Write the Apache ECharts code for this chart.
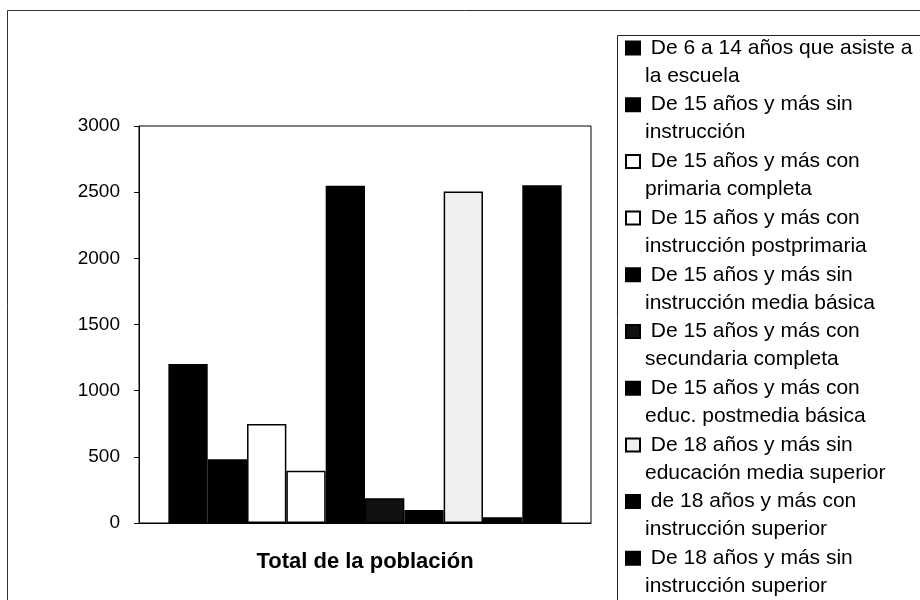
<!DOCTYPE html>
<html>
<head>
<meta charset="utf-8">
<script src="https://cdn.jsdelivr.net/npm/echarts@6/dist/echarts.min.js"></script>
<style>html,body{margin:0;padding:0;background:#fff}#c{width:920px;height:600px}</style>
</head>
<body>
<div id="c"></div>
<script>
const categories = ['Total de la población'];
const seriesNames = [
  'De 6 a 14 años que asiste a\nla escuela',
  'De 15 años y más sin\ninstrucción',
  'De 15 años y más con\nprimaria completa',
  'De 15 años y más con\ninstrucción postprimaria',
  'De 15 años y más sin\ninstrucción media básica',
  'De 15 años y más con\nsecundaria completa',
  'De 15 años y más con\neduc. postmedia básica',
  'De 18 años y más sin\neducación media superior',
  'de 18 años y más con\ninstrucción superior',
  'De 18 años y más sin\ninstrucción superior'
];
const seriesValues = [1202, 482, 748, 395, 2548, 187, 98, 2505, 43, 2553];
const seriesColors = ['#000', '#000', '#fff', '#fff', '#000', '#111', '#000', '#efefef', '#000', '#000'];
const yTicks = {min: 0, max: 3000, interval: 500};

const FONT = '"Liberation Sans", Arial, sans-serif';
const chart = echarts.init(document.getElementById('c'), null, {renderer: 'canvas'});
chart.setOption({
  backgroundColor: '#fff',
  animation: false,
  graphic: [
    {type: 'rect', shape: {x: 7.5, y: 10.5, width: 960, height: 640}, style: {fill: 'none', stroke: '#333', lineWidth: 1}, z: -1},
    {type: 'rect', shape: {x: 617.5, y: 35.5, width: 400, height: 640}, style: {fill: 'none', stroke: '#222', lineWidth: 1}, z: -1}
  ],
  grid: {left: 139, right: 329, top: 126, bottom: 77, show: true, borderColor: '#000', borderWidth: 1, backgroundColor: 'transparent'},
  legend: {
    orient: 'vertical',
    left: 620,
    top: 1,
    height: 800,
    width: 400,
    padding: 5,
    icon: 'rect',
    itemWidth: 14,
    itemHeight: 13,
    itemGap: -27.3,
    formatter: n => '\n ' + n,
    textStyle: {fontFamily: FONT, fontSize: 21, color: '#000', lineHeight: 28},
    data: seriesNames
  },
  xAxis: {
    type: 'category',
    data: categories,
    axisLine: {lineStyle: {color: '#000', width: 1}},
    axisTick: {show: false},
    axisLabel: {fontFamily: FONT, fontSize: 22, fontWeight: 'bold', color: '#000', margin: 28}
  },
  yAxis: {
    type: 'value',
    min: yTicks.min, max: yTicks.max, interval: yTicks.interval,
    axisLine: {show: true, lineStyle: {color: '#000', width: 1}},
    axisTick: {show: true, length: 5, lineStyle: {color: '#000'}},
    splitLine: {show: false},
    axisLabel: {fontFamily: FONT, fontSize: 19, color: '#000', margin: 19, formatter: v => String(v)}
  },
  series: seriesNames.map((name, i) => ({
    type: 'bar',
    name: name,
    data: [seriesValues[i]],
    barGap: '0%',
    barCategoryGap: '13%',
    itemStyle: {color: seriesColors[i], borderColor: '#000', borderWidth: 1.5}
  }))
});
</script>
</body>
</html>
